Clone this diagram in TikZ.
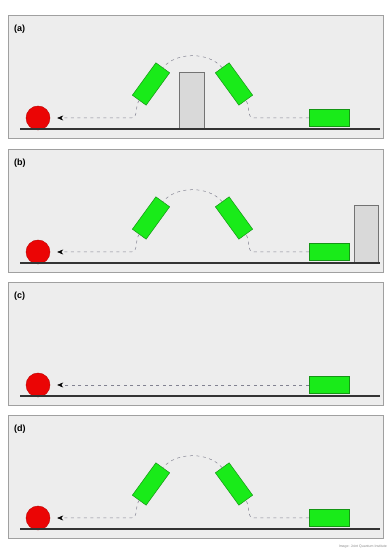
\documentclass[tikz,border=0pt]{standalone}
\usepackage{fontspec}
\setmainfont{Liberation Sans}
\usetikzlibrary{arrows.meta}
\definecolor{panelbg}{RGB}{237,237,237}
\definecolor{panelframe}{RGB}{160,160,160}
\definecolor{lasergreen}{RGB}{25,235,25}
\definecolor{laseredge}{RGB}{20,150,20}
\definecolor{raygray}{RGB}{130,130,145}
\definecolor{ballred}{RGB}{235,5,5}
\tikzset{
  x=1pt, y=1pt,
  panel/.style={fill=panelbg, draw=panelframe, line width=0.8pt},
  ground/.style={draw=black!80, line width=2.4pt},
  ball/.style={circle, fill=ballred, draw=ballred!80!black, line width=0.4pt, minimum size=24pt, inner sep=0pt},
  emitter/.style={rectangle, fill=lasergreen, draw=laseredge, line width=0.5pt, minimum width=40pt, minimum height=17pt, inner sep=0pt},
  tilt/.style={emitter},
  barrier/.style={rectangle, fill=black!15, draw=black!55, line width=0.8pt, inner sep=0pt, anchor=south},
  ray/.style={draw=raygray, line width=0.5pt, dash pattern=on 3pt off 3.5pt},
  tip/.style={-{Stealth[length=6pt,width=5pt,black]}},
  lbl/.style={anchor=west, inner sep=0pt, font=\fontsize{9}{10}\selectfont\bfseries},
}
\newcommand{\basepanel}[2]{%
  \draw[panel] (8,-9) rectangle (383,114);
  \node[lbl] (lab#1) at (14,100) {(#2)};
  \node[ball] (ball#1) at (38,11) {};
  \node[emitter] (emit#1) at (329,11) {};
}
\newcommand{\hoppath}[1]{%
  \node[tilt, rotate=54] (up#1) at (151,45) {};
  \node[tilt, rotate=-54] (down#1) at (234,45) {};
  \coordinate (inR#1) at (254,11);
  \coordinate (outL#1) at (131,11);
  \draw[ray] (emit#1.west) -- (inR#1) to[out=180,in=-54] (down#1.east);
  \draw[ray] (down#1.west) to[out=130,in=50,looseness=0.9] (up#1.east);
  \draw[ray,tip] (up#1.west) to[out=-126,in=0] (outL#1) -- ([xshift=7pt]ball#1.east);
}
\begin{document}
\begin{tikzpicture}
\useasboundingbox (0,0) rectangle (389,553);
\fill[white] (0,0) rectangle (389,553);
% (a)
\begin{scope}[shift={(0,424)}]
  \basepanel{A}{a}
  \node[barrier, minimum width=25pt, minimum height=56pt] (wallA) at (191.5,0) {};
  \hoppath{A}
  \draw[ground] (20,0) -- (380,0);
\end{scope}
% (b)
\begin{scope}[shift={(0,290)}]
  \basepanel{B}{b}
  \node[barrier, minimum width=24pt, minimum height=57pt] (wallB) at (366,0) {};
  \hoppath{B}
  \draw[ground] (20,0) -- (380,0);
\end{scope}
% (c)
\begin{scope}[shift={(0,157)}]
  \basepanel{C}{c}
  \draw[ray,tip] (emitC.west) -- ([xshift=7pt]ballC.east);
  \draw[ground] (20,0) -- (380,0);
\end{scope}
% (d)
\begin{scope}[shift={(0,24)}]
  \basepanel{D}{d}
  \hoppath{D}
  \draw[ground] (20,0) -- (380,0);
\end{scope}
\node[anchor=east, inner sep=0pt, text=black!45, font=\fontsize{3.5}{4}\selectfont] (credit) at (387,6) {Image: Joint Quantum Institute};
\end{tikzpicture}
\end{document}
